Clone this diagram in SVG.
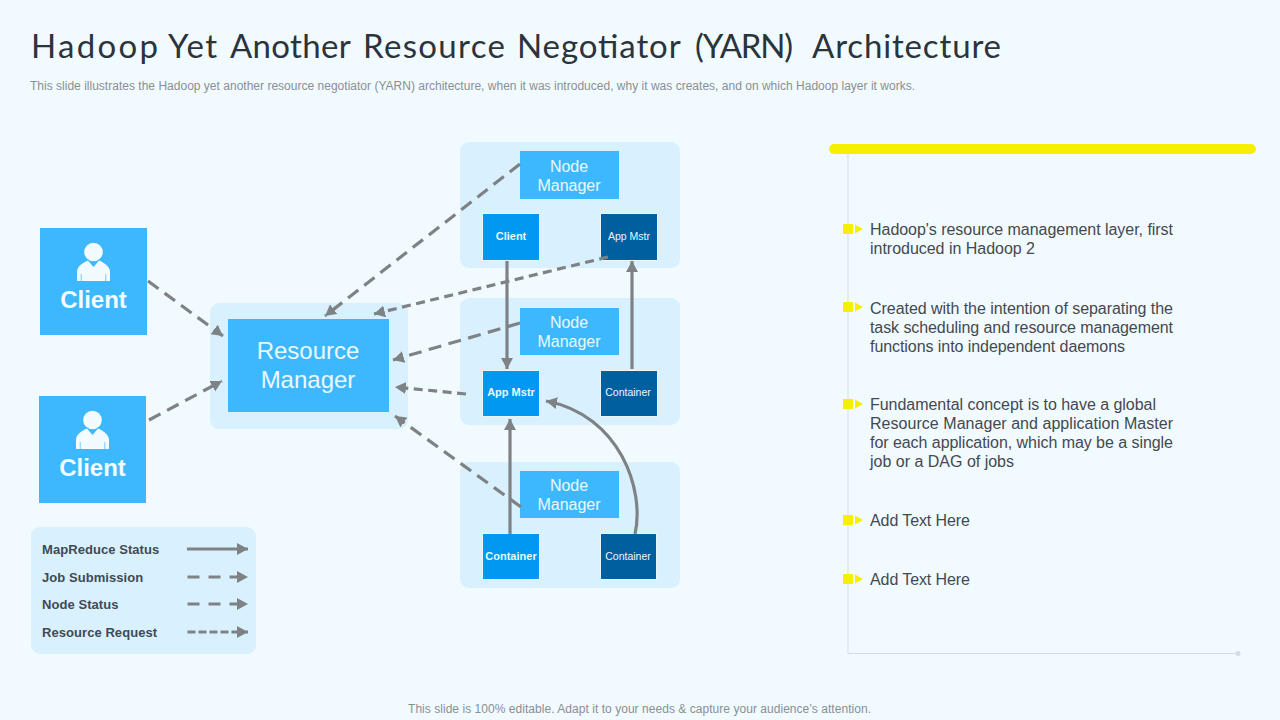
<svg xmlns="http://www.w3.org/2000/svg" width="1280" height="720" viewBox="0 0 1280 720">
<style>
text{font-family:"Liberation Sans",Arial,sans-serif}
.panel{fill:#d9f1ff}
.big{fill:#3db8ff}
.mid{fill:#0098f0;stroke:#e8f7ff;stroke-width:1}
.dark{fill:#005f9e;stroke:#e8f7ff;stroke-width:1}
.nm{font-size:16px;fill:#eaf8ff;text-anchor:middle}
.small{font-size:10.5px;fill:#eaf8ff;text-anchor:middle}
.sb{font-size:11px;font-weight:bold;fill:#eaf8ff;text-anchor:middle}
.cl{font-size:24px;font-weight:bold;fill:#f2fbff;text-anchor:middle}
.rm{font-size:24px;fill:#eaf8ff;text-anchor:middle}
.lg{font-size:13px;font-weight:bold;fill:#3f4a54;letter-spacing:.06px}
.bt{font-size:16px;fill:#44494f}
.sub{font-size:12px;fill:#8a8f94}
.c{fill:none;stroke:#7f8285;stroke-width:3.200}
.d{stroke-dasharray:13 7.500}
.e{stroke-dasharray:9 5.500}
.user{fill:#f2fbff}
.y{fill:#f6f000}
#title{font-family:Lato,"Liberation Sans",sans-serif;font-size:33px;font-weight:400;fill:#2b343b}
</style>
<defs>
<marker id="ah" markerUnits="userSpaceOnUse" markerWidth="14" markerHeight="14" refX="11" refY="6" orient="auto"><path d="M0 0L11 6L0 12Z" fill="#7f8285"/></marker>
<g id="user"><circle cx="0" cy="-28" r="9.300" class="user"/><path class="user" d="M-16.500 1V-8C-16.500-14-10-17.500-5.500-19.500L0-13L5.500-19.500C10-17.500 16.500-14 16.500-8V1H12.700V-6H12V1H-12V-6H-12.700V1Z"/></g>
</defs>
<rect width="1280" height="720" fill="#f1faff"/>
<text id="title" y="57.500"><tspan x="31" textLength="127">Hadoop</tspan> <tspan x="168" textLength="49">Yet</tspan> <tspan x="230" textLength="120">Another</tspan> <tspan x="363" textLength="142">Resource</tspan> <tspan x="517" textLength="163">Negotiator</tspan> <tspan x="695" textLength="98">(YARN)</tspan> <tspan x="812" textLength="189">Architecture</tspan></text>
<text id="subtitle" class="sub" x="30" y="90" textLength="885" lengthAdjust="spacing">This slide illustrates the Hadoop yet another resource negotiator (YARN) architecture, when it was introduced, why it was creates, and on which Hadoop layer it works.</text>

<g id="panels">
<rect class="panel" x="460" y="142" width="220" height="126" rx="9"/>
<rect class="panel" x="460" y="298" width="220" height="127" rx="9"/>
<rect class="panel" x="460" y="462" width="220" height="126" rx="9"/>
<rect class="panel" x="210" y="303" width="198" height="126" rx="9"/>
<rect class="panel" x="31" y="527" width="225" height="127" rx="9"/>
</g>

<g id="client-1"><rect class="big" x="40" y="228" width="107" height="107"/><use href="#user" x="93.500" y="280"/><text class="cl" x="93.500" y="308">Client</text></g>
<g id="client-2"><rect class="big" x="39" y="396" width="107" height="107"/><use href="#user" x="92.500" y="448"/><text class="cl" x="92.500" y="476">Client</text></g>
<g id="resource-manager"><rect class="big" x="228" y="319" width="161" height="93"/><text class="rm" x="308" y="359">Resource</text><text class="rm" x="308" y="388">Manager</text></g>

<g id="node-manager-1"><rect class="big" x="520" y="151" width="99" height="48"/><text class="nm" x="569" y="172">Node</text><text class="nm" x="569" y="191">Manager</text></g>
<g id="node-manager-2"><rect class="big" x="520" y="308" width="99" height="47"/><text class="nm" x="569" y="328">Node</text><text class="nm" x="569" y="347">Manager</text></g>
<g id="node-manager-3"><rect class="big" x="520" y="471" width="99" height="47"/><text class="nm" x="569" y="491">Node</text><text class="nm" x="569" y="510">Manager</text></g>

<g id="box-client"><rect class="mid" x="482.500" y="213.500" width="57" height="47"/><text class="sb" x="511" y="240">Client</text></g>
<g id="box-appmstr-top"><rect class="dark" x="600.500" y="213.500" width="57" height="47"/><text class="small" x="629" y="240">App Mstr</text></g>
<g id="box-appmstr-mid"><rect class="mid" x="482.500" y="370.500" width="57" height="46"/><text class="sb" x="511" y="396">App Mstr</text></g>
<g id="box-container-mid"><rect class="dark" x="600.500" y="370.500" width="57" height="46"/><text class="small" x="628" y="396">Container</text></g>
<g id="box-container-left"><rect class="mid" x="482.500" y="533.500" width="57" height="46"/><text class="sb" x="511" y="560">Container</text></g>
<g id="box-container-right"><rect class="dark" x="600.500" y="533.500" width="56" height="46"/><text class="small" x="628" y="560">Container</text></g>

<g id="connectors">
<path class="c d" d="M148 281L223 336" marker-end="url(#ah)"/>
<path class="c d" d="M149 420L222 381" marker-end="url(#ah)"/>
<path class="c d" d="M520 164L325 316" marker-end="url(#ah)"/>
<path class="c e" d="M608 257L374 314" marker-end="url(#ah)"/>
<path class="c d" d="M520 323L393 360" marker-end="url(#ah)"/>
<path class="c e" d="M466 394L395 387" marker-end="url(#ah)"/>
<path class="c d" d="M521 507L395 416" marker-end="url(#ah)"/>
<path class="c" d="M507 261V369" marker-end="url(#ah)"/>
<path class="c" d="M632 369V261" marker-end="url(#ah)"/>
<path class="c" d="M510 534V419" marker-end="url(#ah)"/>
<path class="c" d="M635 534C645 490 620 415 546 401" marker-end="url(#ah)"/>
<path class="c" d="M187 549H248" marker-end="url(#ah)"/>
<path class="c" d="M187.500 577H248" stroke-dasharray="12 9" marker-end="url(#ah)"/>
<path class="c" d="M187.500 604H248" stroke-dasharray="12 9" marker-end="url(#ah)"/>
<path class="c" d="M187.500 632H248" stroke-dasharray="8 3" marker-end="url(#ah)"/>
</g>

<g id="legend">
<text class="lg" x="42" y="554">MapReduce Status</text>
<text class="lg" x="42" y="582">Job Submission</text>
<text class="lg" x="42" y="609">Node Status</text>
<text class="lg" x="42" y="637">Resource Request</text>
</g>

<g id="info-panel">
<path d="M848 152V653.500H1238" fill="none" stroke="#d5dde2" stroke-width="1"/>
<circle cx="1238" cy="653.500" r="2.500" fill="#d5dde2"/>
<rect class="y" x="829" y="144" width="427" height="10" rx="5"/>
<g class="y"><rect x="843" y="224" width="10" height="10"/><path d="M855 224.500L863 229L855 233.500Z"/></g>
<g class="y"><rect x="843" y="302" width="10" height="10"/><path d="M855 302.500L863 307L855 311.500Z"/></g>
<g class="y"><rect x="843" y="399" width="10" height="10"/><path d="M855 399.500L863 404L855 408.500Z"/></g>
<g class="y"><rect x="843" y="515" width="10" height="10"/><path d="M855 515.500L863 520L855 524.500Z"/></g>
<g class="y"><rect x="843" y="574" width="10" height="10"/><path d="M855 574.500L863 579L855 583.500Z"/></g>
<text class="bt" x="870" y="235" textLength="303">Hadoop's resource management layer, first</text>
<text class="bt" x="870" y="254" textLength="165">introduced in Hadoop 2</text>
<text class="bt" x="870" y="314" textLength="303">Created with the intention of separating the</text>
<text class="bt" x="870" y="333" textLength="303">task scheduling and resource management</text>
<text class="bt" x="870" y="352" textLength="255">functions into independent daemons</text>
<text class="bt" x="870" y="410" textLength="286">Fundamental concept is to have a global</text>
<text class="bt" x="870" y="429" textLength="303">Resource Manager and application Master</text>
<text class="bt" x="870" y="448" textLength="303">for each application, which may be a single</text>
<text class="bt" x="870" y="467" textLength="144">job or a DAG of jobs</text>
<text class="bt" x="870" y="526" textLength="100">Add Text Here</text>
<text class="bt" x="870" y="585" textLength="100">Add Text Here</text>
</g>
<text id="footer" x="408" y="713" font-size="12" fill="#8a8f94" textLength="463">This slide is 100% editable. Adapt it to your needs &amp; capture your audience’s attention.</text>
</svg>
